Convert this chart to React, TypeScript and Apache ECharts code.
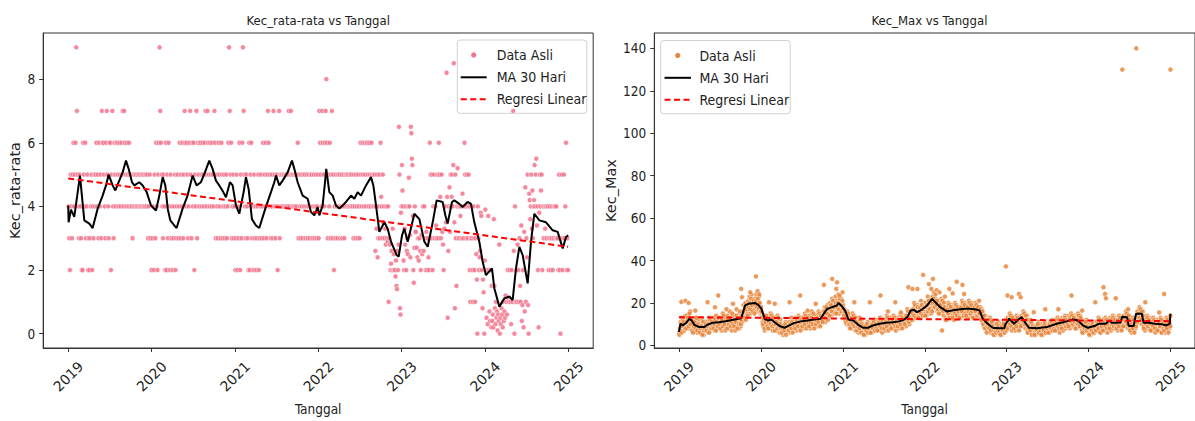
import React, { useEffect, useRef } from "react";
import * as echarts from "echarts";

// ---------- tick labels ----------
const yearTicks = [2019, 2020, 2021, 2022, 2023, 2024, 2025];
const rataTicks = [0, 2, 4, 6, 8];
const maxTicks = [0, 20, 40, 60, 80, 100, 120, 140];

// ---------- Kec_rata-rata : daily values grouped by month (Jan 2019 ... Dec 2024) ----------
const rataMonthly: number[][] = [
  [4, 3, 2, 5, 4, 3, 5, 6, 4, 5],
  [6, 9, 7, 5, 4, 3, 5, 4, 3, 2],
  [2, 6, 5, 4, 6, 3, 4, 5, 2, 3],
  [2, 3, 4, 5, 2, 4, 3, 5, 4, 5],
  [6, 4, 5, 3, 6, 4, 5, 3, 7, 6],
  [6, 5, 4, 3, 6, 7, 5, 4, 3, 6],
  [6, 2, 5, 7, 4, 3, 6, 5, 4, 6],
  [6, 5, 4, 6, 5, 4, 6, 5, 7, 4],
  [7, 6, 5, 4, 6, 5, 4, 6, 5, 4],
  [5, 4, 3, 5, 4, 5, 4, 5, 4, 5],
  [4, 5, 4, 5, 4, 5, 4, 5, 4, 5],
  [4, 5, 4, 5, 3, 4, 3, 5, 3, 2],
  [2, 3, 4, 2, 5, 3, 6, 4, 2, 5],
  [6, 9, 7, 6, 5, 4, 3, 5, 4, 2],
  [6, 2, 5, 3, 6, 4, 2, 5, 3, 4],
  [2, 3, 4, 5, 2, 3, 4, 5, 3, 4],
  [6, 3, 5, 4, 6, 3, 5, 7, 6, 4],
  [6, 5, 3, 4, 6, 7, 5, 3, 6, 4],
  [6, 2, 5, 4, 7, 3, 6, 5, 4, 6],
  [6, 5, 4, 6, 5, 4, 6, 7, 5, 4],
  [7, 6, 5, 4, 6, 5, 4, 6, 5, 4],
  [7, 6, 3, 5, 4, 3, 6, 5, 4, 3],
  [6, 5, 3, 4, 5, 3, 4, 5, 3, 4],
  [6, 9, 7, 5, 6, 3, 4, 5, 3, 4],
  [2, 3, 5, 2, 4, 3, 6, 2, 5, 3],
  [6, 9, 7, 5, 4, 3, 5, 4, 3, 2],
  [6, 2, 5, 6, 3, 4, 2, 5, 3, 4],
  [2, 3, 4, 5, 2, 3, 4, 5, 3, 4],
  [6, 3, 5, 4, 6, 3, 5, 7, 6, 4],
  [5, 3, 4, 5, 3, 7, 4, 5, 3, 4],
  [5, 2, 4, 7, 3, 5, 4, 5, 4, 5],
  [5, 4, 5, 4, 5, 4, 5, 7, 4, 5],
  [7, 5, 4, 5, 4, 5, 4, 5, 4, 5],
  [6, 3, 5, 4, 3, 5, 4, 3, 5, 4],
  [5, 3, 4, 5, 3, 4, 5, 3, 4, 5],
  [5, 3, 4, 5, 3, 4, 5, 3, 4, 5],
  [3, 7, 6, 5, 4, 7, 6, 5, 4, 6],
  [7, 8, 6, 3, 5, 4, 6, 3, 5, 7],
  [3, 5, 2, 4, 3, 5, 4, 3, 5, 4],
  [5, 3, 4, 5, 3, 4, 5, 3, 4, 5],
  [5, 4, 5, 4, 5, 4, 5, 4, 5, 4],
  [3, 5, 4, 3, 5, 4, 3, 5, 4, 3],
  [6, 5, 4, 6, 5, 4, 6, 5, 4, 6],
  [6, 5, 4, 6, 5, 4, 6, 5, 4, 5],
  [4, 5, 2.6, 4, 3.3, 5, 2.4, 3, 4, 5, 3, 6],
  [4.3, 4, 3, 5, 3.5, 4, 3, 3.3, 2.8, 4, 3, 2.9],
  [4, 1, 3, 2.8, 2, 2.2, 2.6, 2, 3.3, 2, 2.5, 2],
  [2, 1.8, 2.3, 1.5, 1.4, 2.6, 2, 2.8, 6.5, 5, 0.8, 0.6, 3.8, 4],
  [5.3, 4.5, 4, 2.3, 2, 3.3, 2.8, 4, 2, 2.6, 3, 2.5, 4],
  [4.9, 4, 3.1, 2.4, 6.5, 6.3, 5.5, 5.3, 3.7, 2, 1.6, 2.7, 4, 3.2],
  [3.2, 2.7, 2.4, 3, 2.3, 3, 2.6, 2, 3.1, 2.5],
  [4, 2.6, 4, 3, 2, 3.2, 2, 3, 2.4, 2],
  [6, 5, 3, 5, 2, 4, 5, 3, 4, 3.4],
  [3, 5, 3, 6, 5, 4.3, 3, 5, 3.2, 2.8],
  [2, 3.3, 4, 4, 3.5, 8.2, 4.3, 0.5, 2.6, 4, 4.6, 3.2],
  [5, 4, 4.3, 5, 4, 5.3, 8.5, 3.5, 0.8, 5, 3, 1.5, 4],
  [5.2, 4, 3, 4, 3.7, 4, 3, 4.4, 3, 4],
  [6, 5, 4, 3, 5, 4, 3, 5, 4, 2, 1, 3],
  [4, 3, 2, 1, 4, 3, 2, 1, 3, 2.5, 1.7, 0, 4],
  [3, 2, 2.4, 2.6, 3.8, 3.7, 2, 0.8, 1.7, 1.3, 0, 2.3],
  [3.9, 2, 0.5, 2, 0.3, 3.7, 2, 0.7, 0.4, 2, 0.2, 1.5],
  [0.4, 0.6, 0.2, 3.6, 1.5, 0.8, 0.3, 1, 0.5, 0.7, 0.1, 0.6, 0.4],
  [2.8, 0, 0.5, 0.3, 0.8, 0.6, 0.2, 1, 0.4, 0.7, 0.5, 1.2],
  [1, 0.6, 2, 1.1, 1, 2, 1, 0.3, 2, 1],
  [7, 2.6, 0, 4, 1, 2, 1, 2.8, 2, 1, 3],
  [1.5, 1, 3.4, 0.4, 0.9, 2, 0.2, 3.2, 0.7, 4.6, 1, 3],
  [2.4, 5, 0.9, 0, 4.4, 4.2, 3.6, 4, 5, 3.3, 4.5, 3, 4],
  [4.2, 5.3, 4, 5, 5.5, 3.4, 4, 2, 0.2, 3.8, 5, 4],
  [4.5, 5, 2, 4, 3, 4, 3.3, 4, 3, 4],
  [4, 2, 3, 4, 2, 3, 4, 2, 3, 4],
  [4, 3, 4, 3, 3, 2, 5, 2, 0, 3],
  [5, 2, 3, 5, 3, 4, 6, 2, 3, 2],
];

// 30-day moving average [decimal year, value]
const rataMA: number[][] = [
  [2019.0, 4.03], [2019.005, 3.5], [2019.033, 3.9], [2019.073, 3.67], [2019.141, 4.97],
  [2019.193, 3.56], [2019.253, 3.46], [2019.293, 3.32], [2019.353, 3.93], [2019.413, 4.34],
  [2019.453, 4.66], [2019.485, 5.0], [2019.533, 4.66], [2019.565, 4.5], [2019.605, 4.76],
  [2019.653, 5.07], [2019.693, 5.44], [2019.725, 5.18], [2019.765, 4.76], [2019.793, 4.66],
  [2019.853, 4.76], [2019.893, 4.66], [2019.941, 4.45], [2019.993, 4.03], [2020.053, 3.87],
  [2020.093, 4.34], [2020.133, 4.92], [2020.165, 4.66], [2020.193, 3.93], [2020.225, 3.56],
  [2020.273, 3.4], [2020.3, 3.32], [2020.372, 3.93], [2020.432, 4.34], [2020.492, 4.97],
  [2020.54, 4.66], [2020.592, 4.76], [2020.64, 5.07], [2020.692, 5.44], [2020.732, 5.18],
  [2020.772, 4.81], [2020.812, 4.66], [2020.86, 4.45], [2020.892, 4.29], [2020.94, 4.76],
  [2020.972, 4.66], [2021.012, 4.03], [2021.052, 3.77], [2021.104, 4.45], [2021.132, 4.92],
  [2021.164, 4.55], [2021.204, 3.6], [2021.252, 3.4], [2021.292, 3.32], [2021.364, 3.93],
  [2021.432, 4.45], [2021.472, 4.76], [2021.492, 4.97], [2021.532, 4.66], [2021.572, 4.81],
  [2021.632, 5.07], [2021.684, 5.44], [2021.712, 5.18], [2021.752, 4.76], [2021.812, 4.34],
  [2021.872, 4.24], [2021.912, 3.82], [2021.952, 3.72], [2021.992, 3.98], [2022.012, 3.72],
  [2022.052, 4.03], [2022.08, 4.76], [2022.095, 5.18], [2022.132, 4.45], [2022.172, 4.34],
  [2022.212, 4.03], [2022.252, 3.93], [2022.292, 4.03], [2022.332, 4.14], [2022.392, 4.34],
  [2022.432, 4.24], [2022.472, 4.45], [2022.512, 4.34], [2022.572, 4.66], [2022.632, 4.92],
  [2022.66, 4.66], [2022.692, 4.03], [2022.732, 3.2], [2022.792, 3.5], [2022.832, 3.3],
  [2022.872, 2.89], [2022.94, 2.47], [2022.964, 2.42], [2023.004, 3.09], [2023.032, 3.3],
  [2023.072, 2.89], [2023.152, 3.77], [2023.212, 3.6], [2023.272, 2.89], [2023.312, 2.73],
  [2023.372, 3.5], [2023.419, 4.19], [2023.491, 4.14], [2023.523, 3.72], [2023.551, 3.46],
  [2023.603, 4.14], [2023.631, 4.19], [2023.691, 4.08], [2023.731, 3.98], [2023.791, 4.14],
  [2023.831, 4.08], [2023.871, 3.5], [2023.931, 2.89], [2023.971, 2.26], [2024.011, 1.84],
  [2024.083, 2.05], [2024.111, 1.43], [2024.171, 0.85], [2024.231, 1.11], [2024.291, 1.17],
  [2024.331, 1.06], [2024.371, 2.05], [2024.411, 2.73], [2024.451, 2.47], [2024.511, 1.58],
  [2024.551, 2.89], [2024.591, 3.77], [2024.651, 3.56], [2024.731, 3.5], [2024.811, 3.25],
  [2024.871, 3.2], [2024.931, 2.68], [2024.971, 3.04], [2024.997, 3.09],
];
const rataReg: number[][] = [[2019.0, 4.88], [2024.997, 2.73]];

// ---------- Kec_Max : daily values grouped by month (two readings sets per month) ----------
const maxMonthly: number[][] = [
  [6, 8, 11, 7, 13, 9, 12, 8, 10, 14],
  [10, 14, 9, 13, 8, 12, 16, 11, 10, 12],
  [8, 12, 7, 11, 9, 13, 6, 10, 12, 9],
  [7, 10, 6, 9, 12, 8, 5, 10, 7, 11],
  [8, 11, 6, 10, 13, 7, 9, 12, 8, 10],
  [9, 13, 7, 11, 14, 8, 10, 12, 9, 13],
  [10, 13, 7, 12, 15, 9, 11, 8, 13, 11],
  [9, 14, 8, 12, 16, 10, 13, 7, 11, 14],
  [10, 14, 7, 12, 17, 9, 13, 11, 8, 15],
  [9, 13, 11, 16, 19, 14, 17, 20, 15, 18],
  [16, 21, 18, 23, 15, 20, 24, 17, 19, 22],
  [17, 22, 19, 24, 16, 21, 18, 23, 20, 15],
  [18, 15, 11, 9, 14, 7, 12, 10, 13, 8],
  [9, 13, 8, 12, 15, 10, 14, 7, 11, 13],
  [8, 12, 7, 11, 14, 9, 10, 6, 12, 9],
  [7, 9, 5, 10, 8, 6, 11, 7, 9, 8],
  [8, 11, 6, 10, 13, 7, 9, 12, 8, 10],
  [9, 13, 7, 12, 10, 14, 8, 11, 13, 10],
  [10, 13, 8, 12, 15, 9, 11, 14, 10, 12],
  [10, 14, 8, 12, 16, 11, 13, 9, 12, 14],
  [11, 14, 9, 13, 16, 10, 12, 15, 11, 13],
  [12, 16, 13, 18, 11, 17, 15, 19, 14, 17],
  [15, 20, 14, 19, 22, 16, 21, 17, 18, 23],
  [16, 21, 17, 24, 15, 20, 18, 22, 19, 25],
  [19, 15, 17, 12, 14, 10, 16, 11, 13, 9],
  [9, 13, 8, 12, 15, 10, 14, 11, 7, 13],
  [8, 11, 6, 10, 13, 7, 9, 12, 8, 10],
  [6, 9, 5, 10, 8, 7, 11, 6, 9, 8],
  [7, 10, 6, 11, 9, 8, 12, 7, 10, 9],
  [8, 12, 7, 11, 13, 9, 10, 6, 12, 10],
  [9, 12, 7, 11, 14, 8, 10, 13, 9, 12],
  [9, 13, 8, 11, 14, 10, 12, 7, 11, 13],
  [10, 13, 8, 12, 15, 9, 11, 14, 10, 12],
  [11, 14, 9, 13, 17, 12, 15, 10, 16, 14],
  [13, 17, 12, 16, 20, 14, 18, 15, 17, 19],
  [14, 18, 13, 17, 21, 15, 19, 16, 17, 20],
  [15, 20, 14, 19, 23, 17, 21, 16, 18, 22],
  [17, 23, 19, 25, 18, 22, 20, 26, 16, 21],
  [16, 20, 15, 19, 22, 17, 21, 14, 18, 23],
  [13, 17, 12, 16, 20, 14, 18, 15, 17, 19],
  [14, 18, 12, 17, 20, 15, 19, 13, 16, 18],
  [14, 18, 13, 17, 21, 15, 19, 16, 18, 20],
  [15, 19, 13, 17, 21, 16, 18, 14, 20, 17],
  [14, 18, 13, 17, 20, 15, 19, 16, 18, 21],
  [16, 18, 13, 17, 11, 15, 9, 12, 14, 10],
  [8, 12, 7, 11, 9, 13, 6, 10, 8, 11],
  [6, 9, 5, 8, 10, 7, 6, 11, 8, 9],
  [6, 10, 5, 9, 7, 11, 6, 8, 12, 9],
  [9, 13, 8, 12, 15, 10, 14, 7, 11, 13],
  [9, 12, 7, 11, 14, 10, 13, 8, 12, 10],
  [10, 14, 9, 13, 16, 11, 15, 8, 12, 14],
  [7, 10, 6, 9, 12, 8, 5, 10, 7, 9],
  [6, 9, 5, 8, 10, 7, 11, 6, 9, 8],
  [6, 10, 5, 9, 7, 11, 8, 6, 10, 9],
  [7, 10, 6, 11, 9, 8, 12, 7, 10, 9],
  [8, 12, 7, 11, 13, 9, 10, 6, 12, 10],
  [9, 13, 7, 12, 10, 14, 8, 11, 13, 10],
  [10, 14, 8, 12, 15, 11, 13, 9, 12, 14],
  [10, 13, 8, 12, 15, 9, 11, 14, 10, 12],
  [7, 10, 6, 11, 9, 8, 12, 7, 10, 8],
  [6, 10, 5, 9, 8, 11, 7, 9, 6, 10],
  [8, 11, 7, 10, 13, 9, 10, 6, 12, 9],
  [8, 12, 7, 11, 13, 9, 10, 6, 12, 10],
  [9, 13, 7, 12, 10, 14, 8, 11, 13, 10],
  [9, 12, 7, 11, 14, 10, 12, 8, 11, 13],
  [10, 14, 9, 13, 16, 11, 15, 8, 12, 14],
  [8, 11, 6, 10, 13, 7, 9, 12, 8, 10],
  [12, 16, 11, 15, 18, 13, 17, 10, 14, 16],
  [9, 13, 7, 12, 10, 14, 8, 11, 13, 10],
  [8, 12, 7, 11, 13, 9, 10, 6, 12, 10],
  [8, 12, 7, 11, 9, 13, 6, 10, 12, 9],
  [8, 11, 6, 10, 13, 7, 9, 12, 8, 10, 14],
];

const maxMonthlyB: number[][] = [
  [5, 7, 10, 6, 9, 11, 7, 8],
  [8, 11, 13, 9, 15, 10, 12, 7],
  [6, 9, 11, 8, 13, 7, 10, 9],
  [6, 8, 9, 5, 11, 7, 8, 10],
  [7, 9, 10, 6, 12, 8, 11, 9],
  [8, 10, 12, 7, 11, 9, 13, 10],
  [8, 11, 12, 9, 14, 10, 7, 12],
  [8, 12, 10, 13, 9, 11, 15, 10],
  [9, 12, 11, 14, 8, 13, 10, 16],
  [10, 12, 14, 16, 13, 18, 12, 17],
  [14, 18, 20, 17, 22, 19, 16, 21],
  [15, 19, 21, 18, 22, 17, 20, 16],
  [16, 13, 10, 12, 8, 11, 14, 9],
  [8, 11, 12, 10, 14, 9, 13, 10],
  [7, 10, 11, 8, 13, 9, 10, 8],
  [6, 8, 9, 7, 10, 5, 8, 9],
  [7, 9, 10, 8, 11, 6, 10, 9],
  [8, 10, 12, 9, 13, 11, 7, 12],
  [9, 11, 12, 10, 14, 8, 13, 11],
  [9, 12, 11, 13, 10, 15, 8, 12],
  [10, 12, 13, 11, 15, 9, 14, 12],
  [11, 14, 16, 13, 18, 15, 12, 17],
  [14, 17, 19, 16, 21, 18, 15, 20],
  [15, 18, 20, 17, 22, 19, 16, 21],
  [17, 14, 16, 11, 13, 12, 15, 10],
  [8, 11, 12, 10, 14, 9, 13, 11],
  [7, 9, 10, 8, 12, 6, 10, 9],
  [5, 8, 9, 7, 10, 6, 8, 9],
  [6, 9, 10, 8, 11, 7, 10, 8],
  [7, 10, 11, 9, 12, 8, 11, 10],
  [8, 10, 11, 9, 13, 7, 12, 10],
  [8, 11, 12, 10, 13, 9, 11, 12],
  [9, 11, 12, 10, 14, 8, 13, 11],
  [10, 13, 14, 12, 16, 11, 15, 13],
  [12, 15, 17, 14, 19, 13, 16, 18],
  [13, 16, 18, 15, 19, 14, 17, 18],
  [14, 18, 19, 16, 21, 17, 20, 15],
  [16, 20, 22, 18, 24, 19, 21, 17],
  [15, 18, 19, 17, 21, 16, 20, 18],
  [12, 16, 17, 15, 19, 13, 18, 16],
  [13, 16, 17, 15, 19, 14, 18, 16],
  [13, 17, 18, 16, 20, 14, 19, 15],
  [14, 17, 18, 16, 20, 15, 19, 16],
  [13, 17, 18, 16, 19, 14, 18, 15],
  [15, 17, 12, 16, 10, 14, 8, 11],
  [6, 9, 10, 8, 12, 7, 11, 9],
  [5, 7, 8, 6, 10, 7, 9, 6],
  [5, 8, 9, 7, 10, 6, 8, 7],
  [8, 11, 12, 10, 14, 9, 13, 11],
  [8, 10, 12, 9, 13, 11, 7, 12],
  [9, 12, 13, 11, 15, 10, 14, 12],
  [6, 8, 9, 7, 11, 5, 9, 8],
  [5, 8, 9, 7, 10, 6, 8, 7],
  [5, 8, 9, 7, 10, 6, 9, 8],
  [6, 9, 10, 8, 11, 7, 10, 8],
  [7, 10, 11, 9, 12, 8, 11, 10],
  [8, 11, 12, 10, 13, 9, 12, 10],
  [9, 12, 13, 11, 14, 10, 13, 11],
  [8, 11, 12, 10, 14, 9, 13, 11],
  [6, 9, 10, 8, 11, 7, 9, 8],
  [5, 8, 9, 7, 10, 6, 9, 8],
  [7, 9, 10, 8, 12, 6, 11, 9],
  [7, 10, 11, 9, 12, 8, 11, 10],
  [8, 11, 12, 10, 13, 9, 12, 10],
  [8, 10, 12, 9, 13, 11, 7, 12],
  [9, 12, 13, 11, 15, 10, 14, 12],
  [7, 9, 10, 8, 12, 6, 10, 9],
  [11, 14, 15, 13, 17, 12, 16, 14],
  [8, 11, 12, 10, 13, 9, 12, 10],
  [7, 10, 11, 9, 12, 8, 11, 10],
  [7, 10, 11, 9, 12, 6, 10, 8],
  [7, 9, 10, 8, 12, 6, 11, 9],
];

// isolated Kec_Max readings [decimal year, value]
const maxOutliers: number[][] = [
  [2019.03, 20.5], [2019.08, 21], [2019.12, 20], [2019.2, 16.4], [2019.35, 20.3], [2019.44, 18],
  [2019.48, 23.5], [2019.58, 17], [2019.66, 19.6], [2019.76, 26.6], [2019.77, 22.7], [2019.87, 25],
  [2019.94, 32.5], [2019.96, 25.5], [2019.98, 24], [2020.1, 20.3], [2020.17, 19.6], [2020.35, 20.3],
  [2020.48, 23.5], [2020.57, 16.4], [2020.67, 19.6], [2020.77, 28.5], [2020.87, 31.3], [2020.93, 29.7],
  [2020.92, 26.6], [2020.96, 23.5], [2021.14, 20.3], [2021.33, 20.3], [2021.46, 23.5], [2021.55, 16],
  [2021.64, 20.3], [2021.71, 15.5], [2021.8, 27.4], [2021.85, 26.6], [2021.91, 26.6], [2021.98, 33.2],
  [2022.05, 28.9], [2022.1, 31.3], [2022.08, 26.6], [2022.18, 25], [2022.21, 7], [2022.3, 26.6],
  [2022.39, 30], [2022.46, 28.5], [2022.34, 24.5], [2022.48, 24.2], [2022.99, 37.2], [2023.01, 23.5],
  [2023.06, 22.7], [2023.15, 24.2], [2023.17, 22.7], [2023.33, 15.6], [2023.47, 17], [2023.63, 17],
  [2023.79, 23.5], [2023.92, 16.4], [2024.08, 20.3], [2024.18, 27.4], [2024.2, 24.2], [2024.21, 22.2],
  [2024.33, 22.2], [2024.48, 17], [2024.69, 20.3], [2024.92, 24.2], [2024.86, 15.5],
  [2024.41, 130], [2024.58, 140], [2024.997, 130],
];

const maxMA: number[][] = [
  [2019.0, 6.3], [2019.02, 10.2], [2019.048, 9.4], [2019.088, 10.6], [2019.128, 12.5],
  [2019.156, 11.7], [2019.188, 9.7], [2019.248, 8.6], [2019.308, 8.6], [2019.348, 9.7],
  [2019.408, 10.6], [2019.488, 10.9], [2019.568, 11.4], [2019.648, 12.0], [2019.728, 12.5],
  [2019.76, 12.8], [2019.808, 18.8], [2019.848, 19.6], [2019.928, 20.0], [2019.968, 19.1],
  [2020.008, 17.2], [2020.048, 12.5], [2020.088, 11.7], [2020.128, 12.2], [2020.168, 10.9],
  [2020.228, 9.1], [2020.288, 8.3], [2020.348, 9.4], [2020.408, 10.6], [2020.488, 11.3],
  [2020.568, 11.7], [2020.648, 12.2], [2020.728, 12.5], [2020.768, 14.9], [2020.808, 17.2],
  [2020.868, 18.0], [2020.928, 18.8], [2020.948, 20.0], [2020.988, 18.5], [2021.028, 16.4],
  [2021.068, 12.2], [2021.128, 11.7], [2021.188, 9.7], [2021.248, 8.3], [2021.308, 8.3],
  [2021.368, 9.4], [2021.448, 10.2], [2021.528, 10.6], [2021.608, 10.9], [2021.688, 11.3],
  [2021.748, 12.2], [2021.788, 13.3], [2021.828, 16.4], [2021.868, 16.7], [2021.908, 15.6],
  [2021.968, 17.0], [2022.029, 18.8], [2022.089, 21.9], [2022.129, 20.3], [2022.189, 18.0],
  [2022.269, 16.0], [2022.329, 16.4], [2022.409, 16.9], [2022.489, 17.2], [2022.549, 17.2],
  [2022.629, 16.9], [2022.669, 16.4], [2022.709, 12.5], [2022.769, 10.2], [2022.829, 8.3],
  [2022.909, 8.1], [2022.969, 8.1], [2022.989, 10.2], [2023.029, 12.5], [2023.089, 10.2],
  [2023.129, 11.7], [2023.177, 13.3], [2023.209, 11.7], [2023.269, 8.3], [2023.369, 8.1],
  [2023.489, 8.6], [2023.609, 10.2], [2023.729, 11.3], [2023.809, 12.2], [2023.869, 11.7],
  [2023.929, 9.4], [2023.989, 8.3], [2024.069, 9.1], [2024.129, 10.2], [2024.209, 10.2],
  [2024.249, 11.7], [2024.289, 10.6], [2024.389, 10.8], [2024.409, 13.5], [2024.469, 13.2],
  [2024.489, 9.1], [2024.549, 9.1], [2024.577, 14.9], [2024.649, 14.9], [2024.669, 10.6],
  [2024.729, 10.6], [2024.809, 10.2], [2024.889, 10.0], [2024.949, 9.4], [2024.989, 10.2],
  [2024.997, 14.9],
];
const maxReg: number[][] = [[2019.0, 13.3], [2024.997, 11.4]];

const legendLabels = ["Data Asli", "MA 30 Hari", "Regresi Linear"];

const FONT = "'DejaVu Sans Condensed', 'Liberation Sans Narrow', 'DejaVu Sans', sans-serif";
const FONT_R = "'DejaVu Sans', sans-serif";
const PINK = "#f3738c";
const ORANGE = "#e8863b";
const TXT = "#222222";

function monthlyToPoints(monthly: number[][]): number[][] {
  const pts: number[][] = [];
  monthly.forEach((vals, m) => {
    vals.forEach((v, i) => {
      pts.push([2019 + (m + (i + 0.5) / vals.length) / 12, v]);
    });
  });
  return pts;
}

function legendGroup(bx: number, by: number, lineX0: number, lineX1: number, textX: number, color: string) {
  const rows = [by + 15, by + 37.3, by + 59.3];
  return {
    type: "group",
    z: 100,
    children: [
      {
        type: "rect",
        shape: { x: bx, y: by, width: 129.5, height: 73.3, r: 3 },
        style: { fill: "rgba(255,255,255,0.8)", stroke: "#d0d0d0", lineWidth: 1 },
      },
      {
        type: "circle",
        shape: { cx: (lineX0 + lineX1) / 2, cy: rows[0], r: 2.6 },
        style: { fill: color },
      },
      {
        type: "line",
        shape: { x1: lineX0, y1: rows[1], x2: lineX1, y2: rows[1] },
        style: { stroke: "#000000", lineWidth: 2 },
      },
      {
        type: "line",
        shape: { x1: lineX0, y1: rows[2], x2: lineX1, y2: rows[2] },
        style: { stroke: "#ff0000", lineWidth: 2, lineDash: [6, 3.5] },
      },
      ...legendLabels.map((t, i) => ({
        type: "text",
        x: textX,
        y: rows[i],
        style: { text: t, fontSize: 14, fontFamily: FONT, fill: TXT, align: "left", verticalAlign: "middle" },
      })),
    ],
  };
}

function xAxisFor(gridIndex: number) {
  return {
    type: "value",
    gridIndex,
    min: 2018.7,
    max: 2025.297,
    axisLine: { show: true, onZero: false, lineStyle: { color: "#333", width: 1 } },
    axisTick: { show: true, customValues: yearTicks, length: 4, lineStyle: { color: "#333" } },
    axisLabel: {
      customValues: yearTicks,
      rotate: 45,
      align: "center",
      verticalAlign: "middle",
      margin: 28.5,
      fontSize: 14,
      fontFamily: FONT_R,
      color: TXT,
      formatter: (v: number) => String(Math.round(v)),
    },
    splitLine: { show: false },
    name: "Tanggal",
    nameLocation: "middle",
    nameGap: 54,
    nameTextStyle: { fontSize: 13.5, fontFamily: FONT, color: TXT },
  };
}

function yAxisFor(gridIndex: number, min: number, max: number, ticks: number[], name: string, gap: number) {
  return {
    type: "value",
    gridIndex,
    min,
    max,
    axisLine: { show: true, onZero: false, lineStyle: { color: "#333", width: 1 } },
    axisTick: { show: true, customValues: ticks, length: 4, lineStyle: { color: "#333" } },
    axisLabel: { customValues: ticks, margin: 8, fontSize: 13.5, fontFamily: FONT, color: TXT },
    splitLine: { show: false },
    name,
    nameLocation: "middle",
    nameGap: gap,
    nameTextStyle: { fontSize: 14.5, fontFamily: FONT_R, color: TXT },
  };
}

export default function App() {
  const ref = useRef<HTMLDivElement>(null);
  useEffect(() => {
    if (!ref.current) return;
    const chart = echarts.init(ref.current, undefined, { renderer: "svg" });
    const rataPts = monthlyToPoints(rataMonthly);
    const maxPts = monthlyToPoints(maxMonthly).concat(monthlyToPoints(maxMonthlyB), maxOutliers);
    const scatterStyle = (c: string) => ({ color: c, borderColor: "#ffffff", borderWidth: 0.6, opacity: 0.85 });
    chart.setOption({
      animation: false,
      backgroundColor: "#ffffff",
      textStyle: { fontFamily: FONT },
      grid: [
        { left: 43.2, top: 33, width: 550, height: 316.3, show: true, borderColor: "#333", borderWidth: 1 },
        { left: 654.3, top: 33, width: 550.2, height: 316.3, show: true, borderColor: "#333", borderWidth: 1 },
      ],
      xAxis: [xAxisFor(0), xAxisFor(1)],
      yAxis: [
        yAxisFor(0, -0.45, 9.45, rataTicks, "Kec_rata-rata", 21),
        yAxisFor(1, -1.25, 147.25, maxTicks, "Kec_Max", 36),
      ],
      series: [
        {
          type: "scatter", xAxisIndex: 0, yAxisIndex: 0, data: rataPts, symbolSize: 5,
          itemStyle: scatterStyle(PINK), silent: true, z: 2,
        },
        {
          type: "line", xAxisIndex: 0, yAxisIndex: 0, data: rataMA, showSymbol: false,
          lineStyle: { color: "#000", width: 2 }, z: 3, silent: true,
        },
        {
          type: "line", xAxisIndex: 0, yAxisIndex: 0, data: rataReg, showSymbol: false,
          lineStyle: { color: "#ff0000", width: 2, type: [6, 3.5] }, z: 4, silent: true,
        },
        {
          type: "scatter", xAxisIndex: 1, yAxisIndex: 1, data: maxPts, symbolSize: 5,
          itemStyle: scatterStyle(ORANGE), silent: true, z: 2,
        },
        {
          type: "line", xAxisIndex: 1, yAxisIndex: 1, data: maxMA, showSymbol: false,
          lineStyle: { color: "#000", width: 2 }, z: 3, silent: true,
        },
        {
          type: "line", xAxisIndex: 1, yAxisIndex: 1, data: maxReg, showSymbol: false,
          lineStyle: { color: "#ff0000", width: 2, type: [6, 3.5] }, z: 4, silent: true,
        },
      ],
      graphic: [
        {
          type: "text", x: 318.2, y: 20.5, z: 100,
          style: { text: "Kec_rata-rata vs Tanggal", fontSize: 13, fontFamily: FONT, fill: TXT, align: "center", verticalAlign: "middle" },
        },
        {
          type: "text", x: 929.4, y: 20.5, z: 100,
          style: { text: "Kec_Max vs Tanggal", fontSize: 13, fontFamily: FONT, fill: TXT, align: "center", verticalAlign: "middle" },
        },
        legendGroup(457.3, 40, 460.7, 486.7, 496.7, PINK),
        legendGroup(660.7, 40.5, 664.5, 691, 699.4, ORANGE),
      ],
    });
    return () => chart.dispose();
  }, []);
  return <div ref={ref} style={{ position: "absolute", left: 0, top: 0, width: 1195, height: 421 }} />;
}
